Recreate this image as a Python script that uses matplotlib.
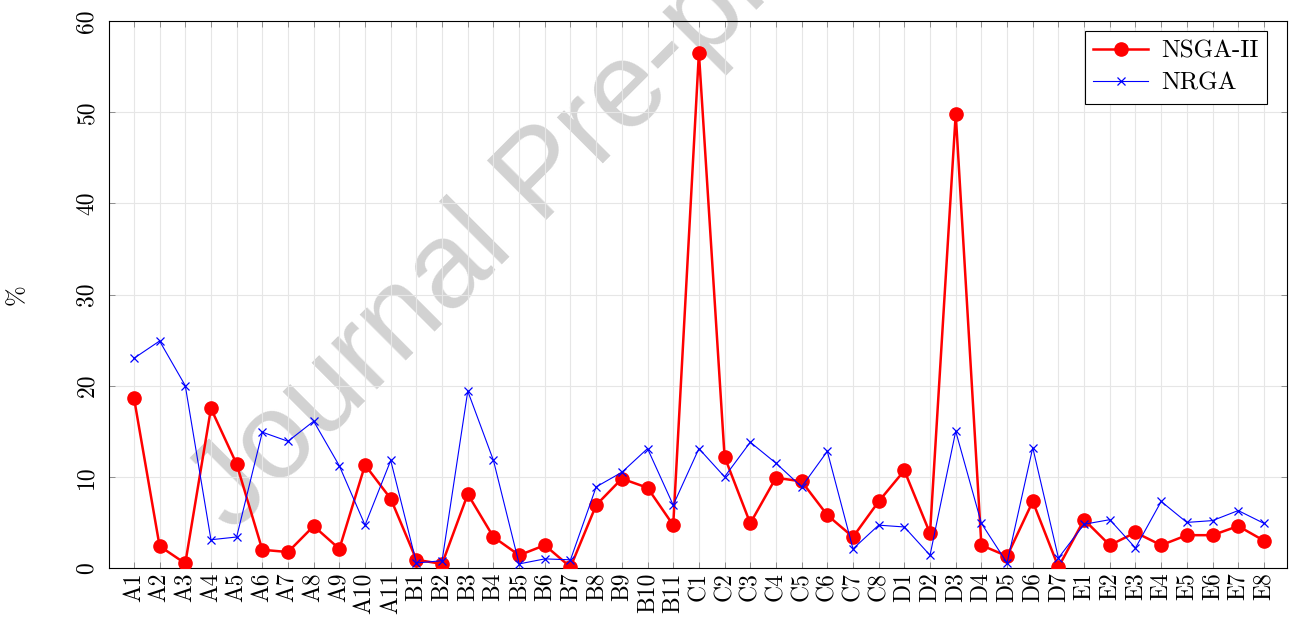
import matplotlib
matplotlib.use("Agg")
import matplotlib.pyplot as plt

categories = (["A%d" % i for i in range(1, 12)] + ["B%d" % i for i in range(1, 12)]
              + ["C%d" % i for i in range(1, 9)] + ["D%d" % i for i in range(1, 8)]
              + ["E%d" % i for i in range(1, 9)])

nsga2 = [18.7, 2.4, 0.5, 17.5, 11.4, 2.0, 1.75, 4.6, 2.1, 11.3, 7.6,
         0.9, 0.45, 8.1, 3.4, 1.4, 2.5, 0.1, 6.9, 9.8, 8.8, 4.7,
         56.5, 12.2, 4.9, 9.9, 9.5, 5.8, 3.4, 7.3,
         10.7, 3.8, 49.8, 2.5, 1.3, 7.3, 0.1,
         5.3, 2.5, 3.9, 2.5, 3.6, 3.6, 4.6, 3.0]

nrga = [23.0, 24.9, 20.0, 3.1, 3.4, 14.9, 13.9, 16.1, 11.2, 4.7, 11.8,
        0.55, 0.8, 19.4, 11.8, 0.45, 1.0, 0.9, 8.9, 10.5, 13.1, 6.9,
        13.1, 10.0, 13.8, 11.5, 8.9, 12.8, 2.1, 4.7,
        4.5, 1.4, 15.0, 4.9, 0.55, 13.2, 1.1,
        4.8, 5.3, 2.2, 7.3, 5.0, 5.2, 6.3, 4.9]

yticks = [0, 10, 20, 30, 40, 50, 60]

plt.rcParams['font.family'] = 'serif'
plt.rcParams['font.serif'] = ['cmr10', 'DejaVu Serif']
plt.rcParams['mathtext.fontset'] = 'cm'
plt.rcParams['axes.formatter.use_mathtext'] = True

fig = plt.figure(figsize=(12.94, 6.24), dpi=100)
ax = fig.add_axes([109/1294, 1 - 568/624, (1287-109)/1294, (568-21)/624])

x = list(range(len(categories)))

fig.text(0.42, 0.715, "Journal Pre-proof", fontsize=88, rotation=45,
         color="#d2d2d2", family="Liberation Sans", ha="center", va="center",
         zorder=-1)
ax.set_facecolor("none")

ax.plot(x, nsga2, color="red", lw=1.8, marker="o", markersize=9.5,
        label="NSGA-II", zorder=3)
ax.plot(x, nrga, color="blue", lw=0.8, marker="x", markersize=6,
        markeredgewidth=0.9, label="NRGA", zorder=4)

ax.set_xlim(-0.97, len(categories) - 1 + 0.9)
ax.set_ylim(0, 60)
ax.set_yticks(yticks)
ax.set_yticklabels([str(v) for v in yticks], rotation=90, va="center", fontsize=17)
ax.set_xticks(x)
ax.set_xticklabels(categories, rotation=90, fontsize=17)
ax.tick_params(direction="in", length=4, color="#808080", width=0.6,
               top=True, right=True)
ax.tick_params(axis="x", pad=3)
ax.tick_params(axis="y", pad=8)
ax.grid(True, color="#e6e6e6", lw=0.8)
ax.set_axisbelow(True)
for s in ax.spines.values():
    s.set_linewidth(0.8)
ax.set_ylabel("%", fontsize=18)
ax.yaxis.set_label_coords((28 - 109) / 1178, 0.5)

leg = ax.legend(loc="upper right", fontsize=18, fancybox=False, framealpha=1,
                edgecolor="black", bbox_to_anchor=(1 - 20/1178, 1 - 10/547),
                borderaxespad=0.0, handlelength=2.2,
                borderpad=0.35, labelspacing=0.4, handletextpad=0.5)
leg.get_frame().set_linewidth(0.8)

fig.savefig("out.png", dpi=100)
